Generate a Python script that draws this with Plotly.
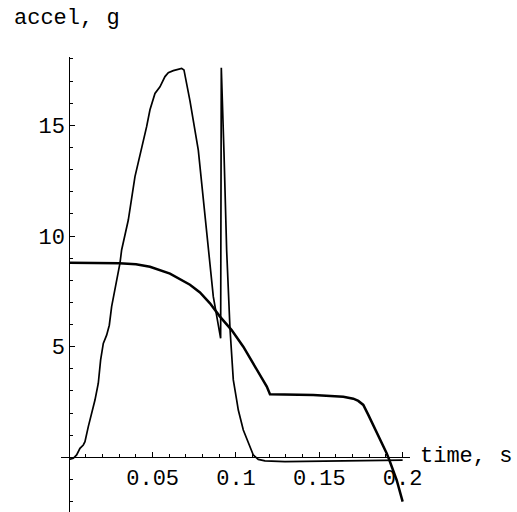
import plotly.graph_objects as go

# Curve A: measured acceleration (thin curve with spike)
time_a = [0.0, 0.0024, 0.0044, 0.0064, 0.0084, 0.0094, 0.0114, 0.0134, 0.0154, 0.0174,
          0.0188, 0.0204, 0.0224, 0.024, 0.0254, 0.0304, 0.0314, 0.0354, 0.0394, 0.0464,
          0.0484, 0.0514, 0.0544, 0.0574, 0.0594, 0.0624, 0.0664, 0.0674, 0.0688, 0.0704,
          0.0724, 0.0774, 0.0834, 0.0864, 0.0908, 0.0912, 0.0928, 0.0944, 0.0964, 0.0984,
          0.1004, 0.1014, 0.1044, 0.1074, 0.1104, 0.1134, 0.1174, 0.1294, 0.16, 0.2]
accel_a = [-0.09, -0.04, 0.11, 0.41, 0.56, 0.71, 1.39, 1.99, 2.59, 3.35,
           4.4, 5.15, 5.52, 5.97, 6.81, 8.77, 9.37, 10.72, 12.68, 14.94,
           15.7, 16.44, 16.74, 17.2, 17.38, 17.47, 17.53, 17.57, 17.5, 16.9,
           16.1, 13.88, 9.37, 7.26, 5.38, 17.6, 13.8, 9.37, 5.83, 3.5,
           2.6, 2.14, 1.24, 0.64, 0.11, -0.09, -0.16, -0.19, -0.17, -0.12]

# Curve B: smooth curve starting near 8.8 g
time_b = [0.0, 0.015, 0.03, 0.04, 0.0484, 0.0604, 0.0664, 0.0724, 0.0784, 0.0844,
          0.0904, 0.0974, 0.1044, 0.1104, 0.1164, 0.1185, 0.1204, 0.13, 0.1464, 0.1644,
          0.1704, 0.1734, 0.1764, 0.1794, 0.1824, 0.1864, 0.1904, 0.192, 0.1964, 0.2]
accel_b = [8.79, 8.79, 8.77, 8.72, 8.61, 8.3, 8.05, 7.8, 7.45, 6.96,
           6.36, 5.75, 5.0, 4.25, 3.5, 3.2, 2.85, 2.83, 2.82, 2.74,
           2.65, 2.55, 2.37, 1.92, 1.46, 0.79, 0.19, -0.12, -1.02, -2.0]

x_tickvals = [0.05, 0.1, 0.15, 0.2]
x_ticktext = ["0.05", "0.1", "0.15", "0.2"]
y_tickvals = [5, 10, 15]
y_ticktext = ["5", "10", "15"]

FONT = "Liberation Mono"
W, H = 517, 512

fig = go.Figure()
fig.add_trace(go.Scatter(x=time_a, y=accel_a, mode="lines",
                         line=dict(color="black", width=1.7), showlegend=False))
fig.add_trace(go.Scatter(x=time_b, y=accel_b, mode="lines",
                         line=dict(color="black", width=2.5), showlegend=False))

# pixel geometry of the axes
x0_px, x_scale = 69.3, 1666.7   # px of x=0, px per unit
y0_px, y_scale = 457.4, 22.14   # px of y=0, px per unit
x_left_px, x_right_px = 61, 410
y_top_px, y_bot_px = 57, 512

fig.update_layout(
    width=W, height=H,
    margin=dict(l=0, r=0, t=0, b=0),
    paper_bgcolor="white", plot_bgcolor="white",
    font=dict(family=FONT, size=22, color="black"),
    xaxis=dict(
        domain=[x_left_px / W, x_right_px / W],
        range=[(x_left_px - x0_px) / x_scale, (x_right_px - x0_px) / x_scale],
        anchor="free", position=(H - y0_px) / H, automargin=False,
        showline=True, linecolor="black", linewidth=1,
        showgrid=False, zeroline=False,
        tickmode="array", tickvals=x_tickvals, ticktext=x_ticktext,
        ticks="inside", ticklen=5, tickwidth=1, tickcolor="black",
        minor=dict(ticks="inside", ticklen=3, tickwidth=1, tickcolor="black",
                   tick0=0, dtick=0.01, showgrid=False),
        tickfont=dict(family=FONT, size=22, color="black"),
    ),
    yaxis=dict(
        domain=[(H - y_bot_px) / H, (H - y_top_px) / H],
        range=[(y0_px - y_bot_px) / y_scale, (y0_px - y_top_px) / y_scale],
        anchor="free", position=x0_px / W, automargin=False,
        showline=True, linecolor="black", linewidth=1,
        showgrid=False, zeroline=False,
        tickmode="array", tickvals=y_tickvals, ticktext=y_ticktext,
        ticks="inside", ticklen=5, tickwidth=1, tickcolor="black",
        minor=dict(ticks="inside", ticklen=3, tickwidth=1, tickcolor="black",
                   tick0=0, dtick=1, showgrid=False),
        tickfont=dict(family=FONT, size=22, color="black"),
    ),
    annotations=[
        dict(text="accel, g", xref="paper", yref="paper", x=12 / W, y=1 - 18.5 / H,
             xanchor="left", yanchor="middle", showarrow=False,
             font=dict(family=FONT, size=22, color="black")),
        dict(text="time, s", xref="paper", yref="paper", x=418 / W, y=1 - 456 / H,
             xanchor="left", yanchor="middle", showarrow=False,
             font=dict(family=FONT, size=22, color="black")),
    ],
)

fig.write_html("out.html")
